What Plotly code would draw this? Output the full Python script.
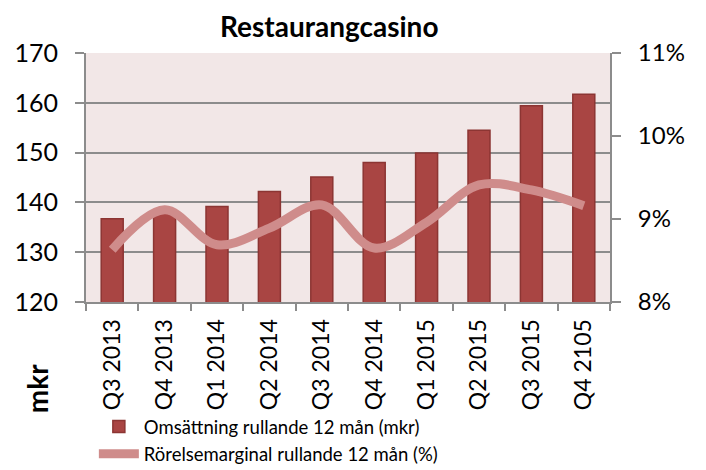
import plotly.graph_objects as go

categories = ["Q3 2013", "Q4 2013", "Q1 2014", "Q2 2014", "Q3 2014",
              "Q4 2014", "Q1 2015", "Q2 2015", "Q3 2015", "Q4 2105"]
omsattning = [136.7, 137.8, 139.2, 142.2, 145.1, 148.0, 149.9, 154.5, 159.4, 161.7]
marginal = [0.0863, 0.0911, 0.0869, 0.0889, 0.0917, 0.0865, 0.0896, 0.0941, 0.0935, 0.0916]
left_ticks = [120, 130, 140, 150, 160, 170]
right_ticks = [0.08, 0.09, 0.10, 0.11]

FONT = "Lato"
fig = go.Figure()
fig.add_trace(go.Bar(
    x=categories, y=omsattning, name="Omsättning rullande 12 mån (mkr)",
    marker=dict(color="#A94543", line=dict(color="#8C3533", width=1.5)),
    yaxis="y",
))
fig.add_trace(go.Scatter(
    x=categories, y=marginal, name="Rörelsemarginal rullande 12 mån (%)",
    mode="lines", line=dict(color="#CF8C8B", width=9, shape="spline", smoothing=1.0),
    yaxis="y2",
))

fig.update_layout(
    width=706, height=470,
    margin=dict(l=78, r=104, t=45, b=176, autoexpand=False),
    paper_bgcolor="white", plot_bgcolor="#F2E7E7",
    font=dict(family=FONT, color="black"),
    title=dict(text="<b>Restaurangcasino</b>", x=0.455, xanchor="center", y=0.96, yanchor="middle",
               font=dict(size=28, family=FONT)),
    bargap=0.58,
    showlegend=True,
    legend=dict(orientation="v", x=0.015, xanchor="left", y=-0.426, yanchor="top",
                font=dict(size=18.5, family=FONT), bgcolor="rgba(0,0,0,0)",
                itemwidth=40, tracegroupgap=5),
    xaxis=dict(type="category", tickangle=-90, tickfont=dict(size=23, family=FONT),
               showline=True, linecolor="#8C8C8C", linewidth=2, automargin=False,
               ticks="outside", tickson="boundaries", ticklen=7, tickcolor="#8C8C8C", tickwidth=2,
               ticklabelstandoff=6, showgrid=False),
    yaxis=dict(range=[120, 170], tickvals=left_ticks, tickfont=dict(size=25, family=FONT),
               showline=True, linecolor="#8C8C8C", linewidth=2, automargin=False,
               ticks="outside", ticklen=9, tickcolor="#8C8C8C", tickwidth=2, ticklabelstandoff=12,
               showgrid=True, gridcolor="#8C8C8C", gridwidth=2, zeroline=False),
    yaxis2=dict(range=[0.08, 0.11], tickvals=right_ticks, tickformat=".0%", overlaying="y", side="right",
                tickfont=dict(size=24, family=FONT), automargin=False,
                showline=True, linecolor="#8C8C8C", linewidth=2,
                ticks="outside", ticklen=9, tickcolor="#8C8C8C", tickwidth=2, ticklabelstandoff=12,
                showgrid=False, zeroline=False),
)
fig.add_annotation(text="<b>mkr</b>", textangle=-90, xref="paper", yref="paper",
                   x=-0.0935, y=-0.35, xanchor="center", yanchor="middle", showarrow=False,
                   font=dict(size=28, family=FONT))

fig.write_html("out.html")
